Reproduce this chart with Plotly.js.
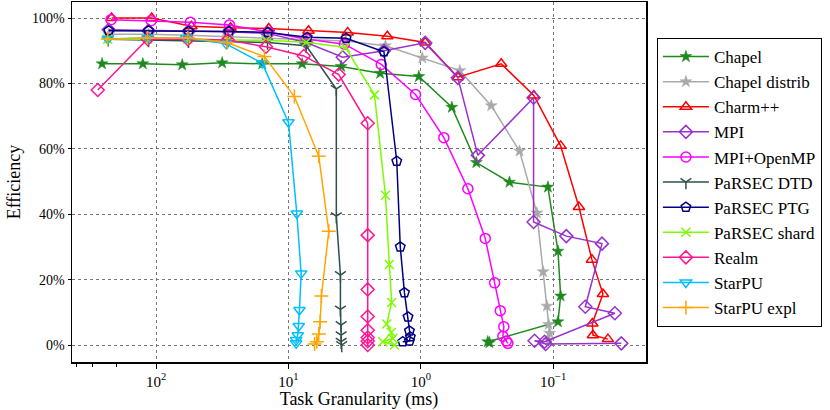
<!DOCTYPE html>
<html>
<head>
<meta charset="utf-8">
<script src="https://cdn.plot.ly/plotly-3.0.1.min.js"></script>
<style>html,body{margin:0;padding:0;background:#fff;}#chart{width:830px;height:410px;}</style>
</head>
<body>
<div id="chart"></div>
<script>
// ---- data (task granularity in ms, efficiency in %) ----
var chapelX = [256, 126, 63.5, 31.7, 15.8, 7.88, 4.0, 2.03, 1.035, 0.583, 0.381, 0.214, 0.1096, 0.092, 0.0879, 0.092, 0.312, 0.303];
var chapelY = [86.0, 86.0, 85.7, 86.3, 86.0, 86.0, 85.2, 83.1, 82.1, 72.7, 55.8, 49.8, 48.3, 28.7, 15.0, 7.1, 1.0, 0.7];

var chapelDistX = [228, 114, 57, 28.6, 14.4, 7.3, 3.7, 1.85, 0.975, 0.507, 0.294, 0.1795, 0.1328, 0.1192, 0.1116, 0.1083, 0.1064, 0.1077];
var chapelDistY = [95.0, 95.0, 94.7, 94.3, 94.0, 93.5, 93.0, 91.5, 87.8, 83.9, 73.2, 59.3, 40.4, 22.4, 11.9, 6.3, 3.6, 1.5];

var charmX = [217, 108, 54.1, 27.4, 14.1, 7.06, 3.57, 1.79, 0.927, 0.525, 0.247, 0.140, 0.0879, 0.0639, 0.0510, 0.0421, 0.0506, 0.0501, 0.0386];
var charmY = [100, 100, 97.5, 97.0, 96.8, 96.1, 95.6, 94.4, 92.5, 81.9, 86.0, 76.3, 60.9, 42.2, 26.1, 15.6, 6.6, 3.0, 1.8];

var mpiX = [228, 114, 56.8, 28.2, 14.4, 7.35, 3.89, 1.90, 0.927, 0.525, 0.371, 0.1407, 0.1407, 0.0796, 0.0428, 0.0572, 0.0342, 0.1162, 0.1383, 0.1141, 0.0306];
var mpiY = [96.4, 96.1, 96.0, 95.8, 95.3, 92.5, 88.0, 90.0, 92.4, 81.7, 58.0, 75.6, 37.6, 33.3, 31.0, 11.7, 9.7, 1.0, 1.3, 0.3, 0.5];

var mpiOmpX = [219, 109, 55.1, 27.9, 14.1, 7.35, 3.78, 1.99, 1.097, 0.670, 0.441, 0.326, 0.277, 0.251, 0.236, 0.240, 0.226, 0.220];
var mpiOmpY = [99.5, 99.2, 98.7, 97.9, 95.6, 93.6, 92.0, 85.8, 76.6, 63.4, 47.8, 32.6, 19.0, 10.5, 5.6, 2.7, 1.2, 0.5];

var dtdX = [230, 114, 57, 28.9, 14.4, 7.35, 4.35, 4.35, 4.05, 4.05, 4.0, 4.0, 4.0, 3.96];
var dtdY = [93.5, 93.3, 93.0, 92.8, 92.5, 91.5, 78.3, 39.4, 21.4, 10.9, 6.1, 3.0, 1.0, 0.0];

var ptgX = [228, 114, 56.8, 28.2, 14.3, 7.22, 3.67, 1.90, 1.52, 1.43, 1.33, 1.25, 1.22, 1.20, 1.22, 1.37];
var ptgY = [96.1, 96.1, 95.9, 95.9, 95.6, 94.1, 93.8, 89.7, 56.2, 30.0, 16.0, 8.6, 4.3, 2.5, 1.2, 1.0];

var shardX = [232, 116, 57.6, 28.9, 14.7, 7.35, 3.71, 2.24, 1.85, 1.73, 1.66, 1.81, 1.67, 1.63, 1.94, 1.58];
var shardY = [93.5, 93.6, 93.6, 93.3, 93.2, 92.6, 91.0, 76.5, 45.8, 24.6, 13.0, 6.4, 3.8, 2.0, 1.0, 0.0];

var realmX = [276, 116, 57.6, 28.8, 14.8, 7.66, 4.17, 2.52, 2.52, 2.52, 2.52, 2.52, 2.52, 2.52, 2.52];
var realmY = [78.0, 93.6, 93.5, 93.3, 91.2, 88.4, 82.7, 67.8, 33.6, 17.0, 8.7, 4.5, 2.3, 1.2, 0.0];

var starpuX = [232, 116, 59.3, 29.6, 15.8, 10.0, 8.65, 8.02, 8.26, 8.36, 8.51, 8.75, 8.75];
var starpuY = [93.6, 93.9, 93.9, 92.1, 86.2, 68.1, 40.2, 21.9, 10.7, 5.8, 3.0, 1.5, 0.5];

var starpuExplX = [232, 116, 57.6, 29.1, 15.2, 9.02, 5.90, 4.96, 5.64, 5.76, 5.90, 6.11, 6.35];
var starpuExplY = [93.6, 93.9, 93.9, 92.5, 88.2, 76.0, 57.7, 34.8, 15.0, 7.1, 3.4, 1.0, 0.3];

var seriesNames = ["Chapel", "Chapel distrib", "Charm++", "MPI", "MPI+OpenMP", "PaRSEC DTD", "PaRSEC PTG", "PaRSEC shard", "Realm", "StarPU", "StarPU expl"];
var xTickVals = [100, 10, 1, 0.1];
var xTickText = ["10<sup>2</sup>", "10<sup>1</sup>", "10<sup>0</sup>", "10<sup>\u22121</sup>"];
var yTickVals = [0, 20, 40, 60, 80, 100];
var yTickText = ["0%", "20%", "40%", "60%", "80%", "100%"];

// ---- styles ----
var xs = [chapelX, chapelDistX, charmX, mpiX, mpiOmpX, dtdX, ptgX, shardX, realmX, starpuX, starpuExplX];
var ys = [chapelY, chapelDistY, charmY, mpiY, mpiOmpY, dtdY, ptgY, shardY, realmY, starpuY, starpuExplY];
var colors = ["#1e8a1e", "#a9a9a9", "#ff0000", "#9932cc", "#ff00ff", "#2f4f4f", "#000080", "#7cfc00", "#ff1493", "#00bfff", "#ffa500"];
var symbols = ["star", "star", "triangle-up-open", "diamond-open", "circle-open", "y-down-open", "pentagon-open", "x-thin-open", "diamond-open", "triangle-down-open", "cross-thin-open"];
var sizes = [9, 9, 10, 10, 10, 9, 10, 9, 10, 10, 10];

var traces = seriesNames.map(function (n, i) {
  var filled = symbols[i] === "star";
  return {
    type: "scatter", mode: "lines+markers", name: n, legendgroup: "g" + i,
    x: xs[i], y: ys[i],
    line: {color: colors[i], width: 1.5},
    marker: {symbol: symbols[i], size: sizes[i], color: colors[i],
             line: {color: colors[i], width: filled ? 0.5 : 1.5}}
  };
});

var serif = "Liberation Serif, Times New Roman, DejaVu Serif, serif";
var layout = {
  width: 830, height: 410,
  margin: {l: 72, r: 184, t: 2, b: 48},
  paper_bgcolor: "#fff", plot_bgcolor: "#fff",
  font: {family: serif, size: 14, color: "#000"},
  showlegend: true,
  legend: {x: 1.019, y: 0.9, xanchor: "left", yanchor: "top",
           bordercolor: "#000", borderwidth: 1, bgcolor: "#fff",
           font: {family: serif, size: 17, color: "#000"},
           itemwidth: 46,
           traceorder: "grouped", tracegroupgap: 0},
  xaxis: {
    type: "log", range: [Math.log10(432), Math.log10(0.0199)],
    tickvals: xTickVals, ticktext: xTickText,
    ticks: "outside", ticklen: 5, tickwidth: 1, tickcolor: "#000",
    minor: {ticks: "outside", ticklen: 3, tickwidth: 1, tickcolor: "#000", showgrid: false},
    showgrid: true, gridcolor: "#777", griddash: "dot", gridwidth: 1,
    showline: true, linecolor: "#000", linewidth: 1.5, mirror: true,
    zeroline: false,
    tickfont: {family: serif, size: 15},
    title: {text: "Task Granularity (ms)", font: {family: serif, size: 18}, standoff: 4}
  },
  yaxis: {
    range: [-5.2, 104.9],
    tickvals: yTickVals, ticktext: yTickText,
    ticks: "outside", ticklen: 3, tickwidth: 1, tickcolor: "#000",
    showgrid: true, gridcolor: "#777", griddash: "dot", gridwidth: 1,
    showline: true, linecolor: "#000", linewidth: 1.5, mirror: true,
    zeroline: false,
    tickfont: {family: serif, size: 14},
    title: {text: "Efficiency", font: {family: serif, size: 18}, standoff: 6}
  }
};

Plotly.newPlot("chart", traces, layout, {displayModeBar: false, staticPlot: true});
</script>
</body>
</html>
